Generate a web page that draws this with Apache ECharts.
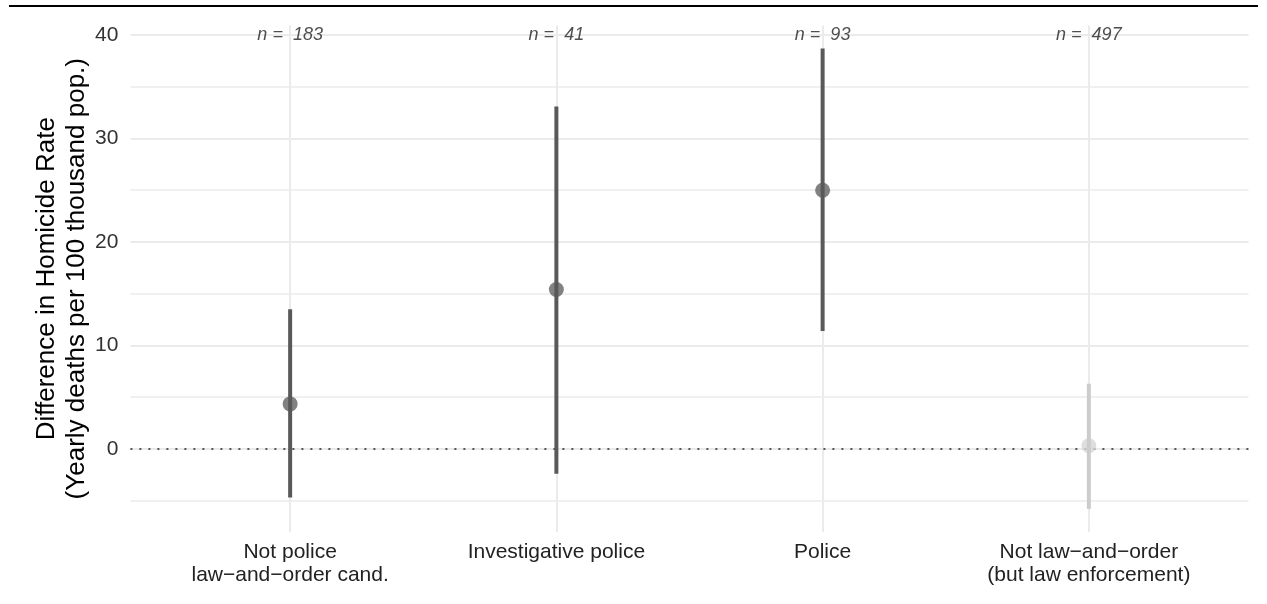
<!DOCTYPE html>
<html>
<head>
<meta charset="utf-8">
<script src="https://cdn.jsdelivr.net/npm/echarts@6/dist/echarts.min.js"></script>
<style>
html,body{margin:0;padding:0;background:#fff;}
#chart{width:1267px;height:604px;}
</style>
</head>
<body>
<div id="chart"></div>
<script>
// ---- data ----
const categories = ['Not police\nlaw\u2212and\u2212order cand.', 'Investigative police', 'Police', 'Not law\u2212and\u2212order\n(but law enforcement)'];
const estimates = [4.35, 15.4, 25.0, 0.3];
const lower = [-4.7, -2.4, 11.4, -5.8];
const upper = [13.5, 33.1, 38.7, 6.3];
const counts = [183, 41, 93, 497];
const nLabelY = 40;
const yTickLabels = [0, 10, 20, 30, 40];
const yMinorTicks = [-5, 5, 15, 25, 35];
const xPositions = [1, 2, 3, 4];
const zeroLine = 0;
const yRange = [-8.03, 40.93];
const xRange = [0.4, 4.6];

// ---- style ----
const FONT = "'Liberation Sans', Arial, Helvetica, sans-serif";
const lineColors = ['#595959', '#595959', '#595959', '#cccccc'];
const pointColors = ['#636363', '#636363', '#636363', '#d6d6d6'];
const BAR_W = 4;

const chart = echarts.init(document.getElementById('chart'), null, {renderer: 'canvas'});

const gridLineData = [];
yTickLabels.forEach(v => gridLineData.push({yAxis: v, lineStyle: {color: '#ebebeb', width: 2, type: 'solid'}}));
yMinorTicks.forEach(v => gridLineData.push({yAxis: v, lineStyle: {color: '#ebebeb', width: 1.6, type: 'solid'}}));
xPositions.forEach(v => gridLineData.push({xAxis: v, lineStyle: {color: '#ebebeb', width: 2, type: 'solid'}}));

const option = {
  animation: false,
  backgroundColor: '#ffffff',
  graphic: [{
    type: 'rect', left: 9, top: 5, shape: {width: 1249, height: 2}, style: {fill: '#000'}
  }],
  grid: {left: 130.4, right: 18.4, top: 25.4, bottom: 72, containLabel: false},
  xAxis: {
    type: 'value', min: xRange[0], max: xRange[1],
    axisLine: {show: false}, axisTick: {show: false}, splitLine: {show: false},
    axisLabel: {
      customValues: xPositions,
      formatter: v => categories[Math.round(v) - 1] || '',
      color: '#222', fontFamily: FONT, fontSize: 21, lineHeight: 23, margin: 9
    }
  },
  yAxis: {
    type: 'value', min: yRange[0], max: yRange[1],
    axisLine: {show: false}, axisTick: {show: false}, splitLine: {show: false},
    axisLabel: {
      customValues: yTickLabels,
      color: '#333', fontFamily: FONT, fontSize: 21, margin: 12
    },
    name: 'Difference in Homicide Rate\n(Yearly deaths per 100 thousand pop.)',
    nameLocation: 'middle', nameGap: 39, nameMoveOverlap: false,
    nameTextStyle: {color: '#000', fontFamily: FONT, fontSize: 26, lineHeight: 30}
  },
  series: [
    {
      type: 'line', data: [], silent: true, z: 1,
      markLine: {
        silent: true, symbol: 'none', animation: false, z: 1,
        label: {show: false},
        data: gridLineData
      }
    },
    {
      type: 'line', data: [], silent: true, z: 2,
      markLine: {
        silent: true, symbol: 'none', animation: false, z: 2,
        label: {show: false},
        lineStyle: {color: '#555', width: 2, type: [2, 7]},
        data: [{yAxis: zeroLine}]
      }
    },
    {
      type: 'scatter', z: 3, symbol: 'circle', symbolSize: 15, silent: true,
      data: estimates.map((v, i) => ({value: [xPositions[i], v], itemStyle: {color: pointColors[i]}}))
    },
    {
      type: 'custom', z: 4, silent: true,
      encode: {x: 0, y: [1, 2]},
      data: lower.map((v, i) => [xPositions[i], v, upper[i]]),
      renderItem: function (params, api) {
        const x = api.value(0);
        const p1 = api.coord([x, api.value(1)]);
        const p2 = api.coord([x, api.value(2)]);
        return {
          type: 'rect',
          shape: {x: p1[0] - BAR_W / 2, y: p2[1], width: BAR_W, height: p1[1] - p2[1]},
          style: {fill: lineColors[params.dataIndex], stroke: null}
        };
      }
    },
    {
      type: 'scatter', z: 6, symbolSize: 0, silent: true,
      data: counts.map((c, i) => [xPositions[i], nLabelY]),
      label: {
        show: true, position: 'inside',
        formatter: p => 'n =  ' + counts[p.dataIndex],
        color: '#222', fontFamily: FONT, fontSize: 18, fontStyle: 'italic',
        align: 'center', verticalAlign: 'middle'
      }
    }
  ]
};
chart.setOption(option);
</script>
</body>
</html>
